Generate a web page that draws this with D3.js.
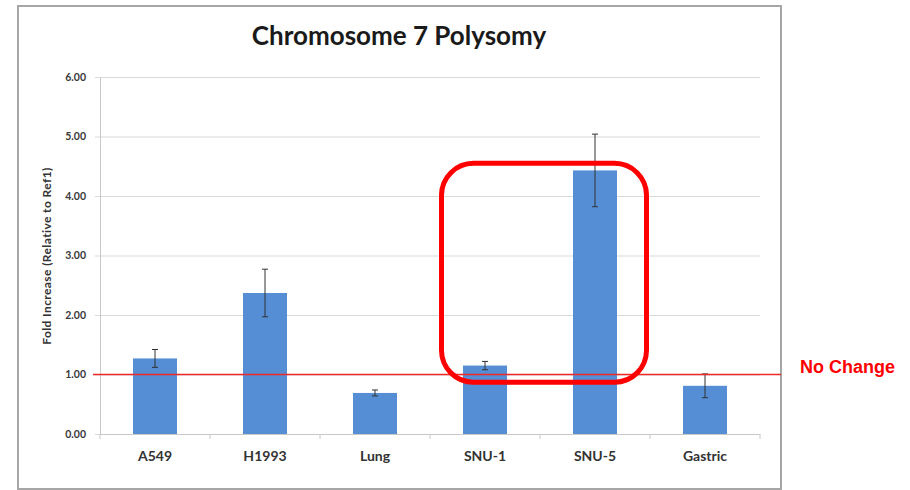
<!DOCTYPE html>
<html>
<head>
<meta charset="utf-8">
<script src="https://cdn.jsdelivr.net/npm/d3@7"></script>
<style>
  body { margin: 0; background: #fff; }
  svg { display: block; }
  text { font-family: Lato, "Open Sans", sans-serif; }
</style>
</head>
<body>
<div id="chart"></div>
<script>
// chart data
var categories = ["A549", "H1993", "Lung", "SNU-1", "SNU-5", "Gastric"];
var foldValues = [1.27, 2.37, 0.69, 1.15, 4.43, 0.81];
var errValues  = [0.15, 0.40, 0.05, 0.07, 0.61, 0.20];
var yTicks = [0, 1, 2, 3, 4, 5, 6];
var baseline = 1.0;
var highlightCats = ["SNU-1", "SNU-5"];
var highlightRange = [0.87, 4.55];

var WIDTH = 910, HEIGHT = 490;
var plot = { left: 100, right: 760, top: 77, bottom: 434 };

var svg = d3.select("#chart").append("svg")
    .attr("width", WIDTH)
    .attr("height", HEIGHT);

// outer frame of the chart area
svg.append("rect")
    .attr("x", 18).attr("y", 6)
    .attr("width", 763).attr("height", 483)
    .attr("fill", "#fff")
    .attr("stroke", "#a6a6a6")
    .attr("stroke-width", 2);

var x = d3.scaleBand()
    .domain(categories)
    .range([plot.left, plot.right])
    .paddingInner(0.6)
    .paddingOuter(0.3);

var y = d3.scaleLinear()
    .domain([0, 6])
    .range([plot.bottom, plot.top]);

var data = categories.map(function(c, i) {
  return { name: c, value: foldValues[i], err: errValues[i] };
});

// gridlines
svg.append("g")
    .attr("class", "grid")
    .attr("transform", "translate(" + plot.left + ",0)")
    .call(d3.axisLeft(y).tickValues(yTicks).tickSize(-(plot.right - plot.left)).tickFormat(""))
    .call(function(g) {
      g.select(".domain").remove();
      g.selectAll(".tick line").attr("stroke", "#d9d9d9").attr("x1", -5);
    });

// y axis
svg.append("g")
    .attr("transform", "translate(" + plot.left + ",0)")
    .call(d3.axisLeft(y).tickValues(yTicks).tickSize(0).tickPadding(14).tickFormat(d3.format(".2f")))
    .call(function(g) {
      g.select(".domain").attr("stroke", "#c8c8c8");
      g.selectAll(".tick text")
        .attr("fill", "#3a3a3a")
        .style("font-size", "10.5px")
        .style("font-weight", "bold")
        .style("font-family", "Lato, sans-serif");
    });

// x axis
var xAxis = svg.append("g")
    .attr("transform", "translate(0," + plot.bottom + ")")
    .call(d3.axisBottom(x).tickSize(0).tickPadding(17))
    .call(function(g) {
      g.select(".domain").attr("stroke", "#c8c8c8");
      g.selectAll(".tick text")
        .attr("fill", "#333")
        .style("font-size", "14px")
        .style("font-weight", "bold")
        .style("font-family", "Lato, sans-serif");
    });

var gap = (x.step() - x.bandwidth()) / 2;
var bounds = categories.map(function(c) { return x(c) - gap; }).concat([plot.right]);
xAxis.selectAll("line.bound")
    .data(bounds)
    .enter().append("line")
    .attr("class", "bound")
    .attr("x1", function(d) { return d; })
    .attr("x2", function(d) { return d; })
    .attr("y1", 0).attr("y2", 5)
    .attr("stroke", "#c8c8c8");

// y axis title
svg.append("text")
    .attr("transform", "translate(51,256) rotate(-90)")
    .attr("text-anchor", "middle")
    .attr("fill", "#333")
    .style("font-size", "12px")
    .style("letter-spacing", "0.4px")
    .style("font-weight", "bold")
    .text("Fold Increase (Relative to Ref1)");

// title
svg.append("text")
    .attr("x", 399).attr("y", 45)
    .attr("text-anchor", "middle")
    .attr("fill", "#1a1a1a")
    .style("font-size", "26px")
    .style("font-weight", "bold")
    .text("Chromosome 7 Polysomy");

// bars
svg.append("g").selectAll("rect")
    .data(data)
    .enter().append("rect")
    .attr("x", function(d) { return x(d.name); })
    .attr("y", function(d) { return y(d.value); })
    .attr("width", x.bandwidth())
    .attr("height", function(d) { return y(0) - y(d.value); })
    .attr("fill", "#558ed5");

// error bars
var eb = svg.append("g").selectAll("g")
    .data(data)
    .enter().append("g")
    .attr("stroke", "#333")
    .attr("stroke-width", 1);
eb.append("line")
    .attr("x1", function(d) { return x(d.name) + x.bandwidth() / 2; })
    .attr("x2", function(d) { return x(d.name) + x.bandwidth() / 2; })
    .attr("y1", function(d) { return y(d.value + d.err); })
    .attr("y2", function(d) { return y(d.value - d.err); });
[1, -1].forEach(function(s) {
  eb.append("line")
    .attr("x1", function(d) { return x(d.name) + x.bandwidth() / 2 - 3; })
    .attr("x2", function(d) { return x(d.name) + x.bandwidth() / 2 + 3; })
    .attr("y1", function(d) { return y(d.value + s * d.err); })
    .attr("y2", function(d) { return y(d.value + s * d.err); });
});

// no change line
svg.append("line")
    .attr("x1", 93).attr("x2", 781)
    .attr("y1", y(baseline)).attr("y2", y(baseline))
    .attr("stroke", "#f02828")
    .attr("stroke-width", 1.5);

svg.append("text")
    .attr("x", 800).attr("y", y(baseline) - 2)
    .attr("fill", "#ff0000")
    .style("font-family", "'Liberation Sans', Arial, sans-serif")
    .style("font-size", "18px")
    .style("font-weight", "bold")
    .text("No Change");

// highlight box
var bx0 = x(highlightCats[0]) - 21.5;
var bx1 = x(highlightCats[1]) + x.bandwidth() + 29.5;
svg.append("rect")
    .attr("x", bx0)
    .attr("y", y(highlightRange[1]))
    .attr("width", bx1 - bx0)
    .attr("height", y(highlightRange[0]) - y(highlightRange[1]))
    .attr("rx", 32).attr("ry", 32)
    .attr("fill", "none")
    .attr("stroke", "#ff0000")
    .attr("stroke-width", 5);
</script>
</body>
</html>
